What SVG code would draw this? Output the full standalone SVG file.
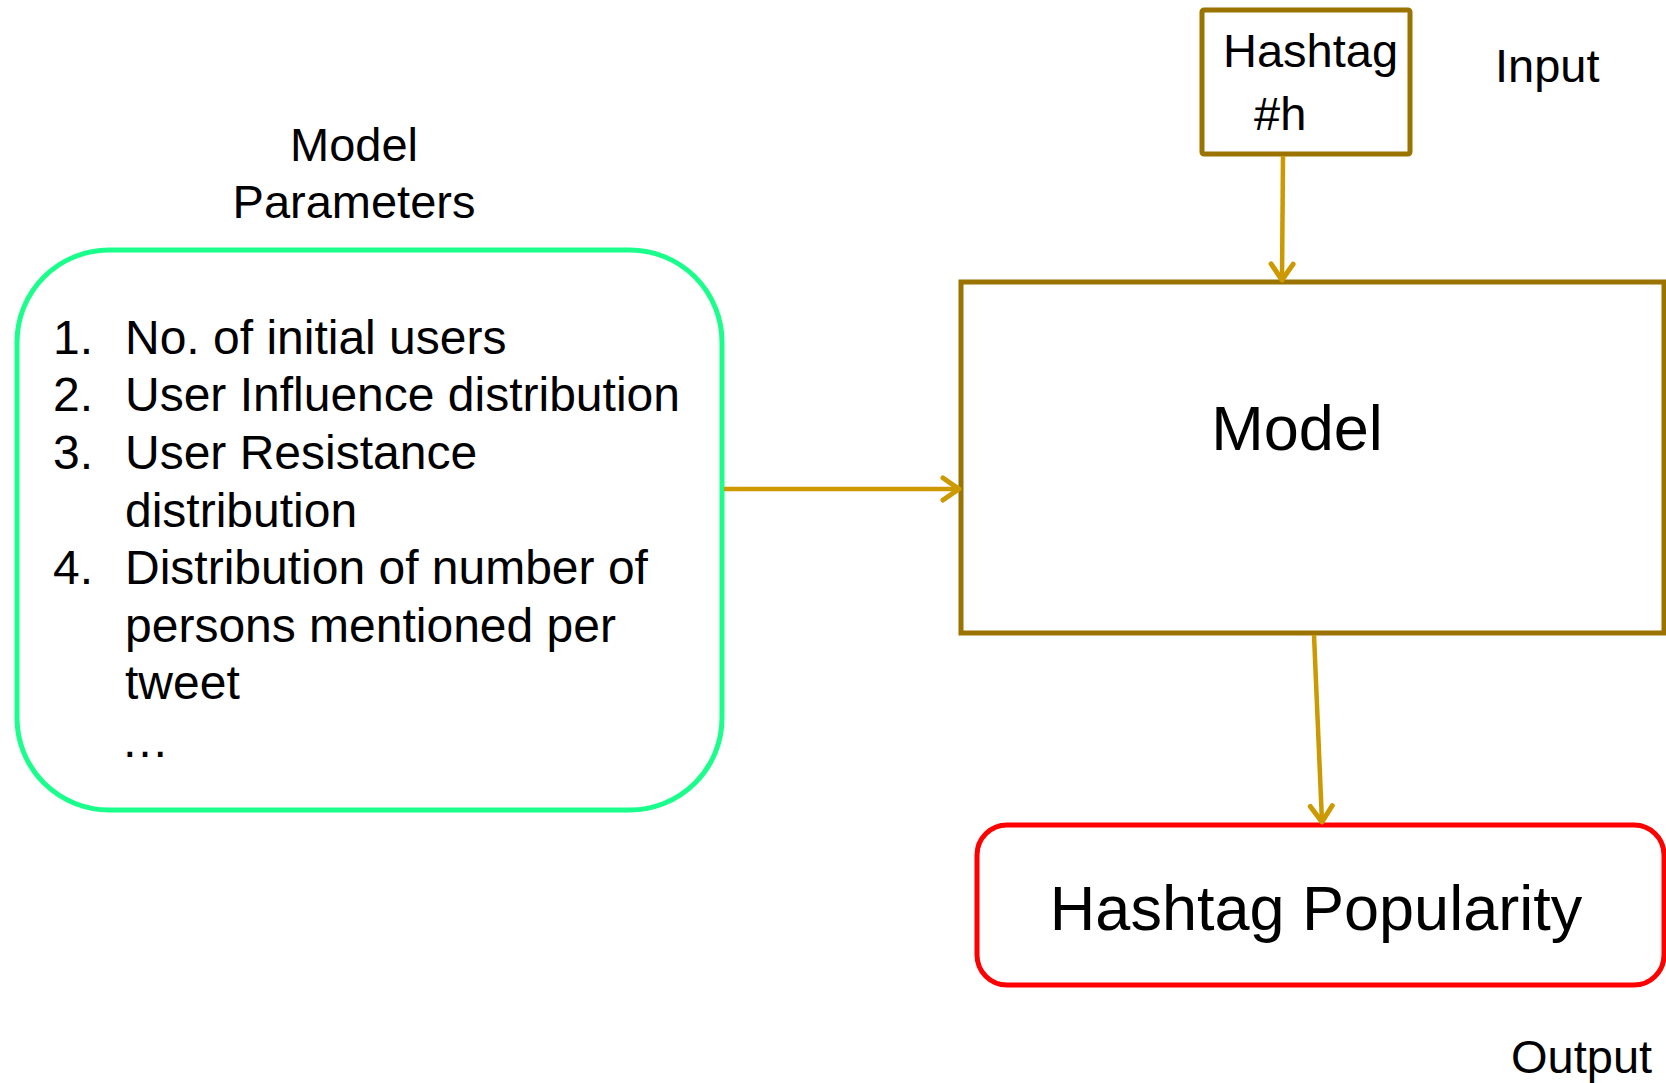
<svg xmlns="http://www.w3.org/2000/svg" width="1666" height="1083" viewBox="0 0 1666 1083">
  <style>
    text { font-family: "Liberation Sans", Arial, sans-serif; fill: #000; }
    .t47 { font-size: 47px; }
    .t48 { font-size: 48px; }
    .big { font-size: 63px; }
    .brown { fill: #fff; stroke: #9a7300; stroke-width: 5; }
    .link { fill: none; stroke: #cc9900; stroke-width: 4.5; }
  </style>
  <defs>
    <marker id="chev" markerUnits="userSpaceOnUse" viewBox="-22 -16 26 32" markerWidth="26" markerHeight="32" refX="0" refY="0" orient="auto">
      <path d="M-16,-11 L0,0 L-16,11" fill="none" stroke="#cc9900" stroke-width="5" stroke-linecap="round" stroke-linejoin="round"/>
    </marker>
  </defs>

  <rect width="1666" height="1083" fill="#fff"/>

  <!-- free labels -->
  <g id="label-params">
    <text class="t47" x="354" y="161" text-anchor="middle">Model</text>
    <text class="t47" x="354" y="218" text-anchor="middle">Parameters</text>
  </g>
  <g id="label-input">
    <text class="t47" x="1495" y="82">Input</text>
  </g>
  <g id="label-output">
    <text class="t47" x="1511" y="1073">Output</text>
  </g>

  <!-- parameter list -->
  <g id="node-params">
    <rect x="17" y="250" width="705" height="560" rx="92" ry="92" fill="#fff" stroke="#1aff8c" stroke-width="5"/>
    <g class="t48">
      <text x="53" y="354">1.</text><text x="125" y="354">No. of initial users</text>
      <text x="53" y="411">2.</text><text x="125" y="411">User Influence distribution</text>
      <text x="53" y="469">3.</text><text x="125" y="469">User Resistance</text>
      <text x="125" y="527">distribution</text>
      <text x="53" y="584">4.</text><text x="125" y="584">Distribution of number of</text>
      <text x="125" y="642">persons mentioned per</text>
      <text x="125" y="699">tweet</text>
      <text x="121" y="757">…</text>
    </g>
  </g>

  <!-- input hashtag -->
  <g id="node-hashtag">
    <rect class="brown" x="1202" y="10" width="208" height="144" rx="2"/>
    <text class="t47" x="1223" y="67">Hashtag</text>
    <text class="t47" x="1254" y="130">#h</text>
  </g>

  <!-- model -->
  <g id="node-model">
    <rect class="brown" x="961" y="282" width="703" height="351"/>
    <text class="big" x="1297" y="450" text-anchor="middle">Model</text>
  </g>

  <!-- output -->
  <g id="node-popularity">
    <rect x="977" y="825" width="687" height="160" rx="30" ry="30" fill="#fff" stroke="#ff0000" stroke-width="5"/>
    <text class="big" x="1316" y="930" text-anchor="middle">Hashtag Popularity</text>
  </g>

  <!-- connectors -->
  <g id="connectors">
    <line class="link" x1="1283" y1="156" x2="1282" y2="280" marker-end="url(#chev)"/>
    <line class="link" x1="724" y1="489" x2="959" y2="489" marker-end="url(#chev)"/>
    <line class="link" x1="1314" y1="635" x2="1322" y2="822" marker-end="url(#chev)"/>
  </g>
</svg>
